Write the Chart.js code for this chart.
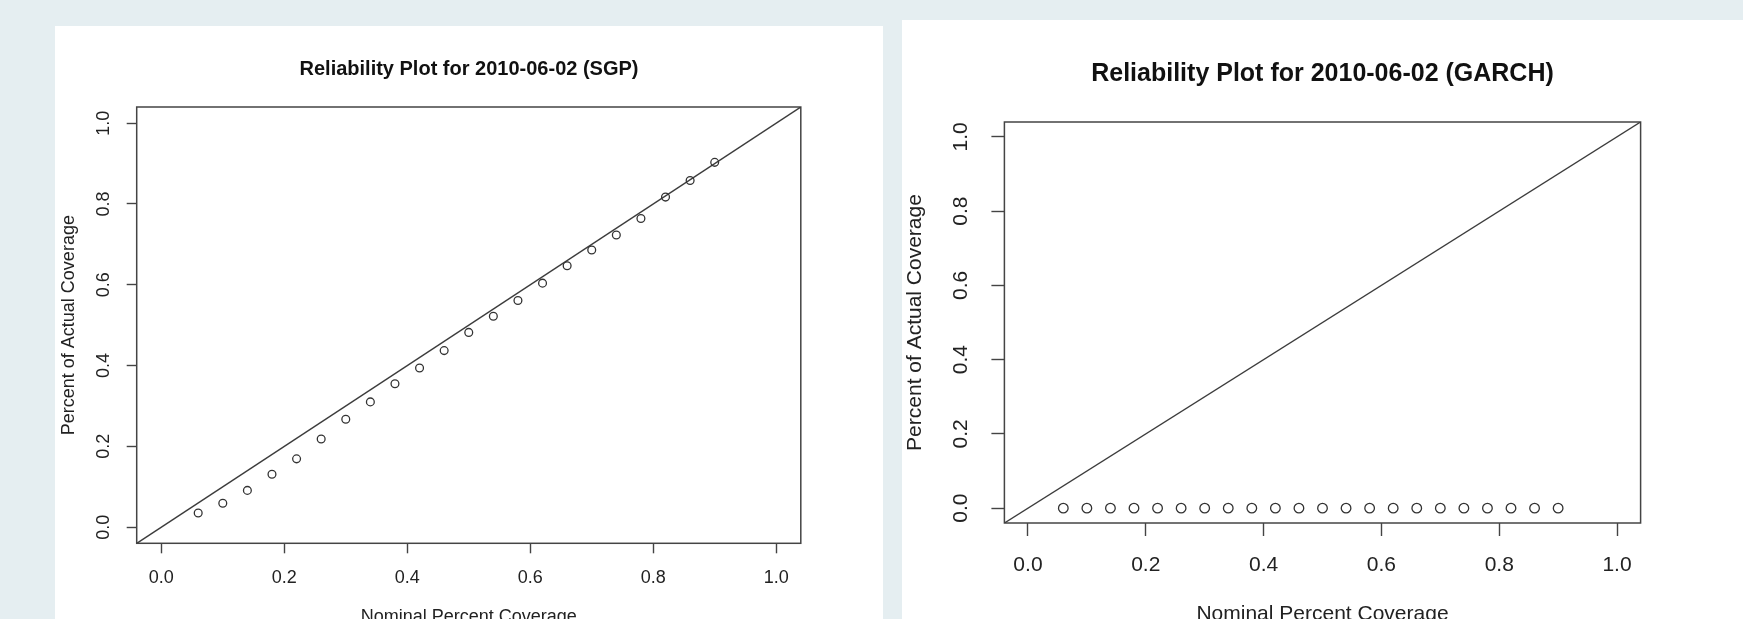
<!DOCTYPE html>
<html>
<head>
<meta charset="utf-8">
<script src="https://cdn.jsdelivr.net/npm/chart.js@4.4.1/dist/chart.umd.min.js"></script>
<style>
  html, body {
    margin: 0;
    padding: 0;
    width: 1743px;
    height: 619px;
    overflow: hidden;
    background: #e5eef1;
  }
  .panel {
    position: absolute;
    background: #ffffff;
    height: 700px;
  }
  .panel canvas {
    position: absolute;
    left: 0;
    top: 0;
  }
</style>
</head>
<body>
<div class="panel" style="left:55px; top:26px; width:828px;">
  <canvas id="sgpChart" width="828" height="620"></canvas>
</div>
<div class="panel" style="left:902px; top:20px; width:841px;">
  <canvas id="garchChart" width="841" height="640"></canvas>
</div>

<script>
// Nominal coverage levels (x) shared by both plots
const NOMINAL = [0.06, 0.10, 0.14, 0.18, 0.22, 0.26, 0.30, 0.34, 0.38, 0.42, 0.46,
                 0.50, 0.54, 0.58, 0.62, 0.66, 0.70, 0.74, 0.78, 0.82, 0.86, 0.90];

// Actual coverage
const SGP_ACTUAL = [0.035, 0.059, 0.091, 0.131, 0.169, 0.218, 0.267, 0.310, 0.355, 0.394, 0.437,
                    0.482, 0.522, 0.561, 0.604, 0.647, 0.686, 0.723, 0.764, 0.817, 0.858, 0.903];
const GARCH_ACTUAL = [0, 0, 0, 0, 0, 0, 0, 0, 0, 0, 0,
                      0, 0, 0, 0, 0, 0, 0, 0, 0, 0, 0];

// Axis ticks and range (R pads 4% on each side)
const TICKS = [0, 0.2, 0.4, 0.6, 0.8, 1.0];
const AXIS_RANGE = [-0.04, 1.04];

// Reference line y = a + b x
const ABLINE = { intercept: 0, slope: 1 };

const FONT_SANS = "'Liberation Sans', Arial, Helvetica, sans-serif";
const FONT_NARROW = "'Liberation Sans Narrow', 'Liberation Sans', Arial, sans-serif";
const INK = '#333333';

// Box around the plot region, like R's box()
const frameBox = {
    id: 'frameBox',
    beforeDatasetsDraw(chart) {
        const { ctx, chartArea } = chart;
        ctx.save();
        ctx.strokeStyle = '#444444';
        ctx.lineWidth = 1.5;
        ctx.strokeRect(chartArea.left, chartArea.top,
            chartArea.right - chartArea.left, chartArea.bottom - chartArea.top);
        ctx.restore();
    }
};

function pairs(xs, ys) {
    return xs.map((x, i) => ({ x: x, y: ys[i] }));
}

function makeReliabilityChart(canvasId, title, actual, s) {
    const ctx = document.getElementById(canvasId).getContext('2d');
    const diag = AXIS_RANGE.map(x => ({ x: x, y: ABLINE.intercept + ABLINE.slope * x }));

    return new Chart(ctx, {
        type: 'scatter',
        data: {
            datasets: [{
                label: 'coverage',
                data: pairs(NOMINAL, actual),
                pointStyle: 'circle',
                pointRadius: s.pointRadius,
                pointHoverRadius: s.pointRadius,
                pointBorderWidth: 1.3,
                pointBorderColor: INK,
                pointBackgroundColor: 'rgba(0,0,0,0)'
            }, {
                label: 'ideal',
                data: diag,
                showLine: true,
                pointRadius: 0,
                borderColor: '#3c3c3c',
                borderWidth: 1.4
            }]
        },
        options: {
            responsive: false,
            animation: false,
            events: [],
            layout: { padding: 0 },
            plugins: {
                legend: { display: false },
                tooltip: { enabled: false },
                title: {
                    display: true,
                    text: title,
                    color: '#111111',
                    font: { family: FONT_SANS, size: s.titleSize, weight: 'bold', lineHeight: 1.2 },
                    padding: s.titlePad
                }
            },
            scales: {
                x: {
                    type: 'linear',
                    position: 'bottom',
                    min: AXIS_RANGE[0],
                    max: AXIS_RANGE[1],
                    afterBuildTicks: scale => { scale.ticks = TICKS.map(v => ({ value: v })); },
                    afterFit: scale => { scale.height = s.xAxisHeight; },
                    border: { display: false },
                    grid: {
                        display: true,
                        drawOnChartArea: false,
                        drawTicks: true,
                        tickLength: s.tickLen,
                        tickWidth: 1.4,
                        tickColor: '#444444'
                    },
                    ticks: {
                        autoSkip: false,
                        maxRotation: 0,
                        padding: s.xTickPad,
                        color: '#222222',
                        font: { family: FONT_NARROW, size: s.tickSize },
                        callback: v => Number(v).toFixed(1)
                    },
                    title: {
                        display: true,
                        text: 'Nominal Percent Coverage',
                        color: '#222222',
                        font: { family: FONT_SANS, size: s.axisTitleSize, lineHeight: 1.2 },
                        padding: { top: 0, bottom: s.xTitlePad }
                    }
                },
                y: {
                    type: 'linear',
                    position: 'left',
                    min: AXIS_RANGE[0],
                    max: AXIS_RANGE[1],
                    afterBuildTicks: scale => { scale.ticks = TICKS.map(v => ({ value: v })); },
                    afterFit: scale => { scale.width = s.yAxisWidth; },
                    border: { display: false },
                    grid: {
                        display: true,
                        drawOnChartArea: false,
                        drawTicks: true,
                        tickLength: s.tickLen,
                        tickWidth: 1.4,
                        tickColor: '#444444'
                    },
                    ticks: {
                        autoSkip: false,
                        minRotation: 90,
                        maxRotation: 90,
                        crossAlign: 'center',
                        padding: s.yTickPad,
                        color: '#222222',
                        font: { family: FONT_NARROW, size: s.tickSize },
                        callback: v => Number(v).toFixed(1)
                    },
                    title: {
                        display: true,
                        text: 'Percent of Actual Coverage',
                        color: '#222222',
                        font: { family: FONT_SANS, size: s.axisTitleSize, lineHeight: 1.2 },
                        padding: { top: s.yTitlePad, bottom: 0 }
                    }
                },
                // empty right-hand margin so the title centres over the plot like R
                yRight: {
                    type: 'linear',
                    position: 'right',
                    display: true,
                    afterFit: scale => { scale.width = s.rightWidth; },
                    border: { display: false },
                    grid: { display: false, drawTicks: false },
                    ticks: { display: false }
                }
            }
        },
        plugins: [frameBox]
    });
}

document.addEventListener('DOMContentLoaded', () => {
    makeReliabilityChart('sgpChart', 'Reliability Plot for 2010-06-02 (SGP)', SGP_ACTUAL, {
        pointRadius: 3.9,
        titleSize: 20,
        titlePad: { top: 31.7, bottom: 25.3 },
        tickSize: 18,
        tickLen: 10,
        axisTitleSize: 18,
        yAxisWidth: 81.7,
        rightWidth: 82.2,
        xAxisHeight: 102.7,
        yTickPad: 9.8,
        xTickPad: 13.5,
        yTitlePad: 3.7,
        xTitlePad: 17.8
    });

    makeReliabilityChart('garchChart', 'Reliability Plot for 2010-06-02 (GARCH)', GARCH_ACTUAL, {
        pointRadius: 4.8,
        titleSize: 25,
        titlePad: { top: 39.5, bottom: 32.5 },
        tickSize: 21,
        tickLen: 13,
        axisTitleSize: 21,
        yAxisWidth: 102.4,
        rightWidth: 102.4,
        xAxisHeight: 137,
        yTickPad: 15.5,
        xTickPad: 16.5,
        yTitlePad: 0.4,
        xTitlePad: 32.9
    });
});
</script>
</body>
</html>
